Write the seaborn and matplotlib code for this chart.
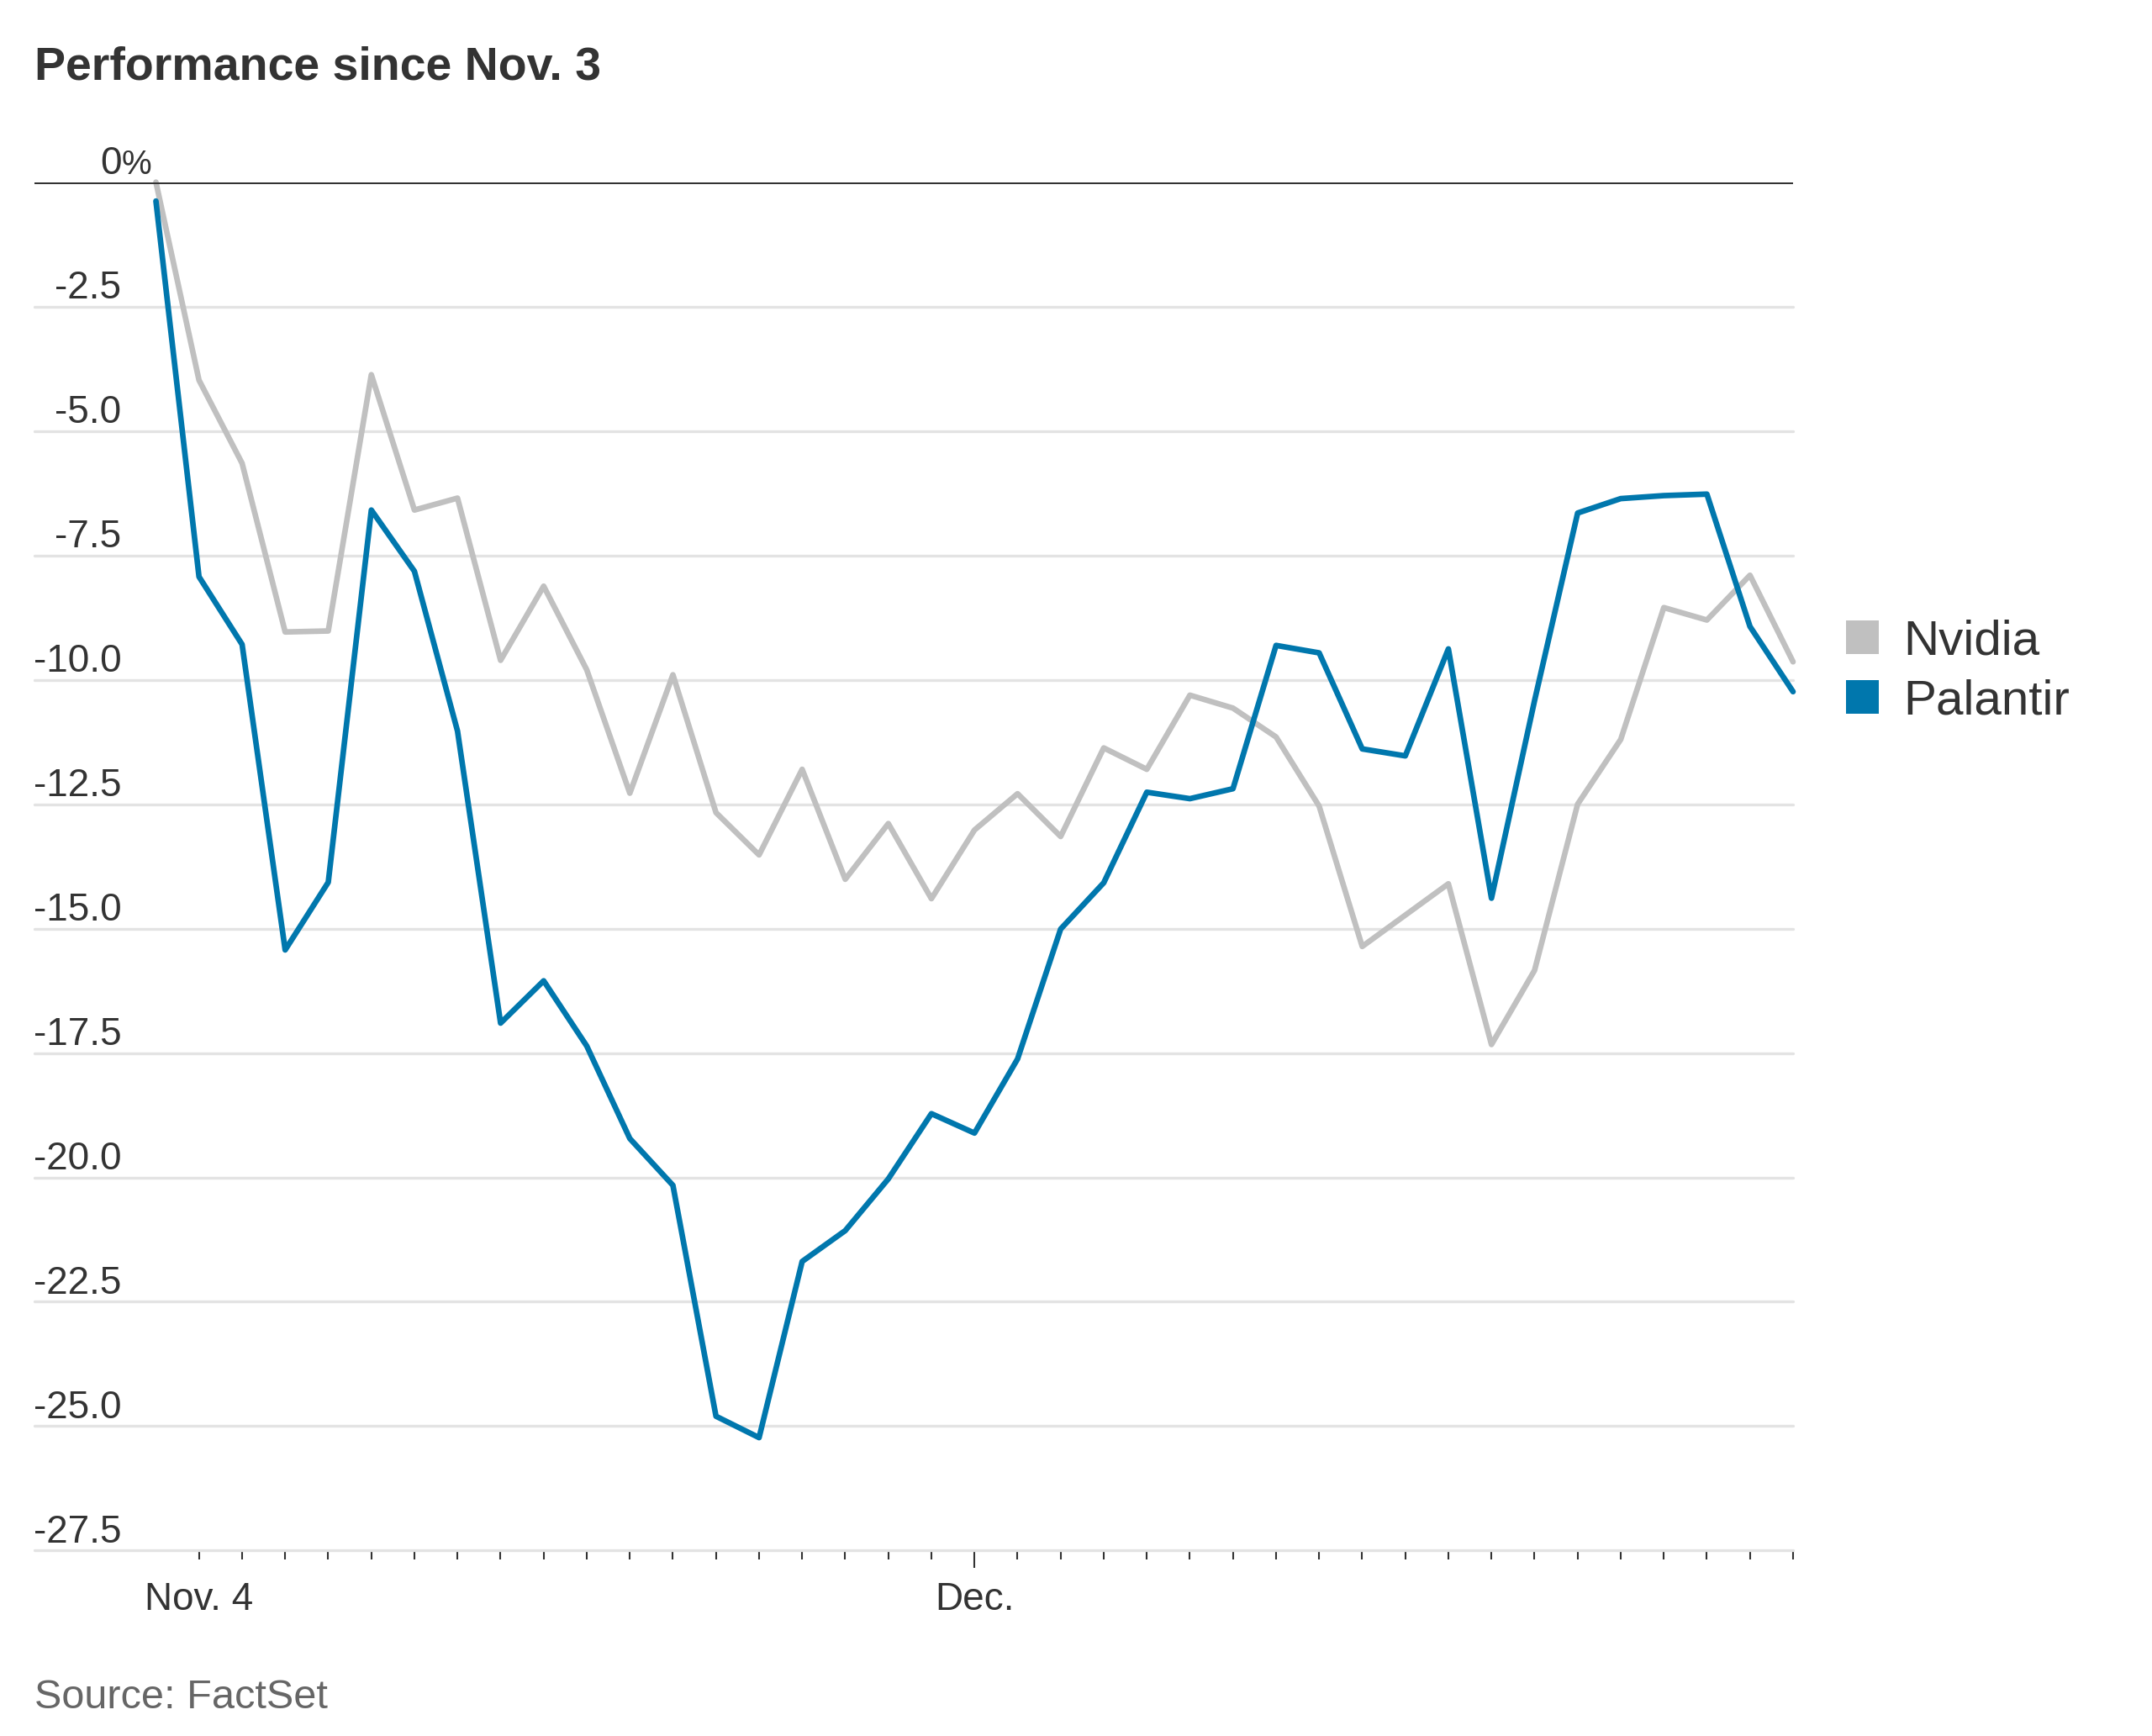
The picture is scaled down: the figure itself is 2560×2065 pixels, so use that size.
import matplotlib
matplotlib.use('Agg')
import matplotlib.pyplot as plt
import matplotlib.transforms as mtransforms
from matplotlib.patches import Patch
import seaborn as sns
import pandas as pd

# ---------------- data ----------------
trading_day = list(range(39))  # 0 = Nov. 3 ... 38 = last session
nvidia = [0.0, -3.98, -5.65, -9.04, -9.02, -3.87, -6.59, -6.35, -9.61, -8.12,
          -9.80, -12.28, -9.90, -12.67, -13.52, -11.80, -14.01, -12.89, -14.40, -13.02,
          -12.29, -13.15, -11.37, -11.80, -10.31, -10.57, -11.15, -12.54, -15.36, -14.73,
          -14.10, -17.33, -15.84, -12.50, -11.20, -8.55, -8.80, -7.90, -9.64]
palantir = [-0.38, -7.93, -9.29, -15.43, -14.07, -6.59, -7.82, -11.03, -16.90, -16.05,
            -17.36, -19.22, -20.16, -24.80, -25.23, -21.69, -21.07, -20.03, -18.72, -19.11,
            -17.62, -15.01, -14.08, -12.26, -12.39, -12.19, -9.31, -9.46, -11.39, -11.53,
            -9.38, -14.39, -10.42, -6.65, -6.36, -6.30, -6.27, -8.93, -10.24]
series_names = ['Nvidia', 'Palantir']
series_colors = ['#c0c0c0', '#0077ad']
ytick_values = [0, -2.5, -5.0, -7.5, -10.0, -12.5, -15.0, -17.5, -20.0, -22.5, -25.0, -27.5]
ytick_labels = ['0', '-2.5', '-5.0', '-7.5', '-10.0', '-12.5', '-15.0', '-17.5',
                '-20.0', '-22.5', '-25.0', '-27.5']
xtick_major_days = [1, 19]
xtick_major_labels = ['Nov. 4', 'Dec.']
title = 'Performance since Nov. 3'
source = 'Source: FactSet'

# ---------------- style ----------------
sns.set_style('white')
plt.rcParams['font.family'] = ['Liberation Sans', 'DejaVu Sans']

df = pd.DataFrame({
    'day': trading_day * 2,
    'value': nvidia + palantir,
    'stock': ['Nvidia'] * len(nvidia) + ['Palantir'] * len(palantir),
})

fig = plt.figure(figsize=(25.6, 20.65), dpi=100)
ax = fig.add_axes([0.016, 0.1068, 0.8172, 0.7883])

# gridlines
for v in ytick_values[1:]:
    ax.axhline(v, color='#e3e3e3', lw=2.4, zorder=1)

sns.lineplot(data=df, x='day', y='value', hue='stock', hue_order=series_names,
             palette=dict(zip(series_names, series_colors)), linewidth=4.8,
             ax=ax, legend=False, zorder=3)
for ln in ax.lines:
    ln.set_clip_on(False)
    ln.set_solid_joinstyle('round')

ax.axhline(0, color='#333333', lw=2.9, zorder=4)

ax.set_xlim(-2.82, 38)
ax.set_ylim(-27.5, 0)
ax.set_xlabel('')
ax.set_ylabel('')
for s in ax.spines.values():
    s.set_visible(False)

ax.set_yticks([])
ax.set_xticks(xtick_major_days)
ax.set_xticklabels(xtick_major_labels)
ax.set_xticks([d for d in trading_day[1:] if d not in xtick_major_days], minor=True)
ax.tick_params(axis='x', which='both', direction='out', length=8, width=1.5,
               color='#333333', bottom=True)
ax.tick_params(axis='x', which='major', pad=18, labelsize=33, labelcolor='#333333')
ax.xaxis.get_major_ticks()[1].tick1line.set_markersize(15)

# y labels inside plot, above gridlines
trans = mtransforms.blended_transform_factory(ax.transAxes, ax.transData)
for v, lab in zip(ytick_values, ytick_labels):
    ax.annotate(lab, xy=(0.0494, v), xycoords=trans, xytext=(0, 7),
                textcoords='offset points', ha='right', va='baseline',
                fontsize=33, color='#333333')
    if v == 0:
        ax.annotate('%', xy=(0.0494, v), xycoords=trans, xytext=(0, 7),
                    textcoords='offset points', ha='left', va='baseline',
                    fontsize=29, color='#333333')

# legend
handles = [Patch(facecolor=c, edgecolor='none', label=n)
           for n, c in zip(series_names, series_colors)]
fig.legend(handles=handles, loc='center left', bbox_to_anchor=(0.8577, 0.613),
           frameon=False, fontsize=42, handlelength=0.68, handleheight=0.68,
           handletextpad=0.5, labelspacing=0.3, borderpad=0, borderaxespad=0,
           labelcolor='#333333')

fig.text(0.016, 0.954, title, fontsize=40, fontweight='bold', color='#333333',
         ha='left', va='baseline')
fig.text(0.016, 0.0162, source, fontsize=35, color='#666666',
         ha='left', va='baseline')

fig.savefig('out.png', dpi=100)
